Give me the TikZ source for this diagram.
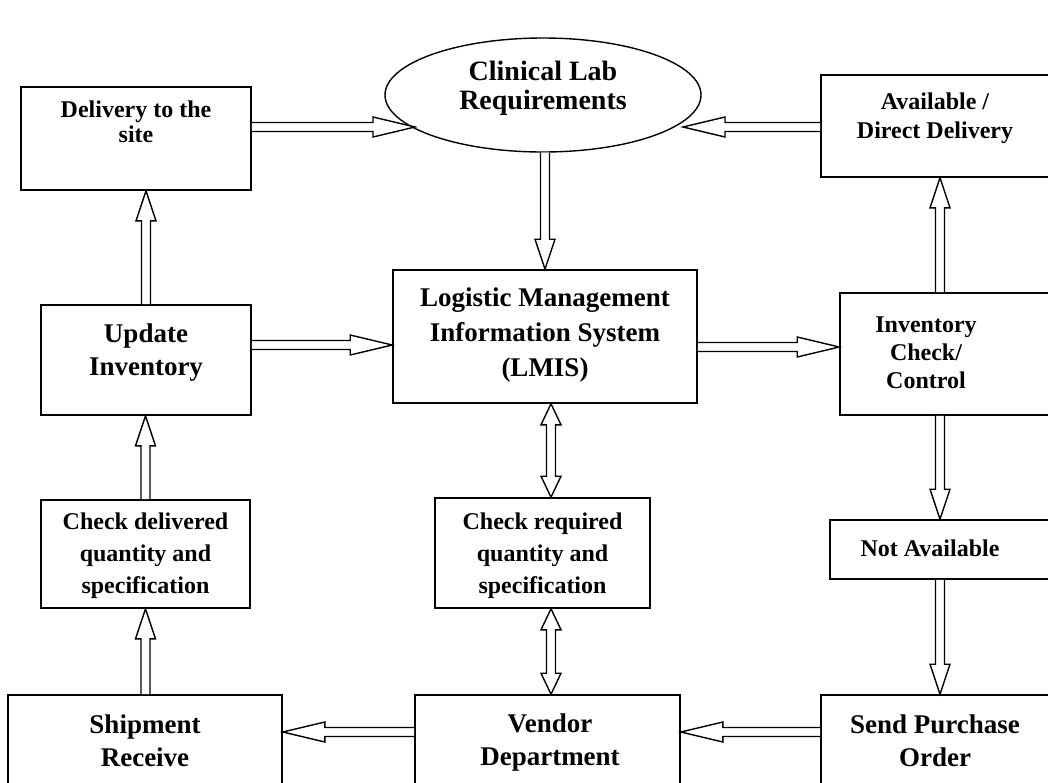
\documentclass[tikz,border=0pt]{standalone}
\usepackage{fontspec}
\setmainfont{Liberation Serif}
\usetikzlibrary{calc,shapes.geometric}
\tikzset{
  box/.style={draw, line width=1.6pt, rectangle, inner sep=0pt, align=center, font=\bfseries\fontsize{27}{32}\selectfont},
  sbox/.style={box, font=\bfseries\fontsize{24}{32}\selectfont},
  lbl/.style={inner sep=0pt, align=center, font=\bfseries\fontsize{27}{33}\selectfont},
  slbl/.style={lbl, font=\bfseries\fontsize{24}{29}\selectfont},
  arr/.style={draw, line width=1.4pt, fill=white, line join=miter},
}
% single block arrow: [head length]{from}{to}
\newcommand\barrow[3][30]{%
  \coordinate (bh) at ($(#3)!#1pt!(#2)$);
  \draw[arr] ($(#2)!4.5pt!90:(#3)$) -- ($(bh)!4.5pt!-90:(#2)$) -- ($(bh)!10pt!-90:(#2)$) -- (#3)
     -- ($(bh)!10pt!90:(#2)$) -- ($(bh)!4.5pt!90:(#2)$) -- ($(#2)!4.5pt!-90:(#3)$);
}
% double block arrow
\newcommand\dbarrow[3][21]{%
  \coordinate (bha) at ($(#2)!#1pt!(#3)$);
  \coordinate (bhb) at ($(#3)!#1pt!(#2)$);
  \draw[arr] (#2) -- ($(bha)!10pt!90:(#3)$) -- ($(bha)!4.5pt!90:(#3)$) -- ($(bhb)!4.5pt!-90:(#2)$)
     -- ($(bhb)!10pt!-90:(#2)$) -- (#3) -- ($(bhb)!10pt!90:(#2)$) -- ($(bhb)!4.5pt!90:(#2)$)
     -- ($(bha)!4.5pt!-90:(#3)$) -- ($(bha)!10pt!-90:(#3)$) -- cycle;
}
\begin{document}
\begin{tikzpicture}[x=1pt,y=-1pt]
\useasboundingbox (0,0) rectangle (1048,782);
\clip (0,0) rectangle (1048,782);
\fill[white] (0,0) rectangle (1048,782);

% ellipse
\node[draw, ellipse, line width=1.4pt, minimum width=316pt, minimum height=114pt, inner sep=0pt] (ell) at (543,95) {};
\node[lbl, font=\bfseries\fontsize{28}{29}\selectfont] at (543,88) {Clinical Lab\\Requirements};

% left column
\node[box, minimum width=230pt, minimum height=103pt] (deliv) at (136,138.5) {};
\node[slbl, font=\bfseries\fontsize{24}{25}\selectfont] at (136,122) {Delivery to the\\site};
\node[box, minimum width=210pt, minimum height=110pt] (upd) at (146,360) {};
\node[lbl] at (146,353) {Update\\Inventory};
\node[box, minimum width=209pt, minimum height=108pt] (chkdel) at (145.5,554) {};
\node[slbl, font=\bfseries\fontsize{24}{32}\selectfont] at (145.5,556) {Check delivered\\quantity and\\specification};
\node[box, minimum width=274pt, minimum height=140pt] (ship) at (145,765) {};
\node[lbl] at (145,741) {Shipment\\Receive};

% middle column
\node[box, minimum width=304pt, minimum height=133pt] (lmis) at (545,336.5) {};
\node[lbl, font=\bfseries\fontsize{27}{35}\selectfont] at (545,335) {Logistic Management\\Information System\\(LMIS)};
\node[box, minimum width=215pt, minimum height=110pt] (chkreq) at (542.5,553) {};
\node[slbl, font=\bfseries\fontsize{24}{32}\selectfont] at (542.5,556) {Check required\\quantity and\\specification};
\node[box, minimum width=265pt, minimum height=140pt] (vendor) at (547.5,765) {};
\node[lbl] at (550,742) {Vendor\\Department};

% right column (cut off at the right edge)
\node[box, minimum width=279pt, minimum height=102pt] (avail) at (960.5,126) {};
\node[slbl] at (935,118) {Available /\\Direct Delivery};
\node[box, minimum width=260pt, minimum height=122pt] (inv) at (970,354) {};
\node[slbl, font=\bfseries\fontsize{24}{28}\selectfont] at (926,353) {Inventory\\Check/\\Control};
\node[box, minimum width=270pt, minimum height=59pt] (notav) at (965,549.5) {};
\node[slbl] at (930,548) {Not Available};
\node[box, minimum width=279pt, minimum height=140pt] (spo) at (960.5,765) {};
\node[lbl] at (935,741) {Send Purchase\\Order};

% arrows
\coordinate (e1) at (415,127);
\coordinate (e2) at (683,127);
\barrow[42]{deliv.east |- e1}{e1}
\barrow[42]{avail.west |- e2}{e2}
\barrow{ell.south -| lmis.north}{lmis.north}
\barrow{upd.north}{deliv.south -| upd.north}
\barrow[42]{upd.east |- 0,345}{lmis.west |- 0,345}
\barrow[42]{lmis.east |- 0,347}{inv.west |- 0,347}
\barrow{inv.north -| 940,0}{avail.south -| 940,0}
\barrow{inv.south -| 940,0}{notav.north -| 940,0}
\barrow{notav.south -| 940,0}{spo.north -| 940,0}
\barrow[42]{spo.west |- 0,732}{vendor.east |- 0,732}
\barrow[42]{vendor.west |- 0,732}{ship.east |- 0,732}
\barrow{ship.north -| chkdel.south}{chkdel.south}
\barrow{chkdel.north}{upd.south -| chkdel.north}
\dbarrow{lmis.south -| 551,0}{chkreq.north -| 551,0}
\dbarrow{chkreq.south -| 551,0}{vendor.north -| 551,0}
\end{tikzpicture}
\end{document}
